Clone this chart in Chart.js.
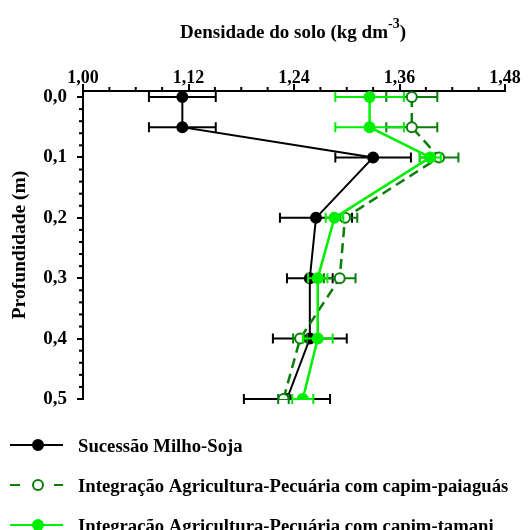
<!DOCTYPE html>
<html><head><meta charset="utf-8">
<script src="https://cdn.jsdelivr.net/npm/chart.js@4/dist/chart.umd.min.js"></script>
<style>html,body{margin:0;padding:0;background:#fff;}canvas{display:block;}</style>
</head><body>
<canvas id="c" width="531" height="530"></canvas>
<script>
const depths = [0, 0.05, 0.1, 0.2, 0.3, 0.4, 0.5];
const milhoSoja = [1.113, 1.113, 1.330, 1.265, 1.258, 1.258, 1.232];
const milhoSojaErr = [0.038, 0.038, 0.043, 0.041, 0.026, 0.042, 0.049];
const paiaguas = [1.374, 1.374, 1.405, 1.298, 1.292, 1.247, 1.228];
const paiaguasErr = [0.029, 0.029, 0.022, 0.014, 0.018, 0.008, 0.006];
const tamani = [1.326, 1.326, 1.395, 1.286, 1.267, 1.267, 1.250];
const tamaniErr = [0.039, 0.039, 0.012, 0.010, 0.011, 0.017, 0.012];
const xTicks = [1.00, 1.12, 1.24, 1.36, 1.48];
const yTicks = [0, 0.1, 0.2, 0.3, 0.4, 0.5];
const seriesNames = ['Sucessão Milho-Soja', 'Integração Agricultura-Pecuária com capim-paiaguás', 'Integração Agricultura-Pecuária com capim-tamani'];
const xTitle = 'Densidade do solo (kg dm';
const yTitle = 'Profundidade (m)';

const FONT = "'Liberation Serif', 'Times New Roman', serif";
const BLACK = '#000000', DARK = '#0a7d0a', LIGHT = '#00ee00';

function pts(vals){ return vals.map((v,i)=>({x:v, y:depths[i]})); }

const errorBars = {
  id:'errorBars',
  beforeDatasetDraw(chart, args){
    const ds = chart.data.datasets[args.index];
    const xs = chart.scales.x, ys = chart.scales.y, ctx = chart.ctx;
    ctx.save();
    ctx.strokeStyle = ds.errColor; ctx.lineWidth = 2; ctx.setLineDash([]);
    ds.data.forEach((p,i)=>{
      const e = ds.errs[i];
      const y = ys.getPixelForValue(p.y);
      const x1 = xs.getPixelForValue(p.x - e), x2 = xs.getPixelForValue(p.x + e);
      ctx.beginPath();
      ctx.moveTo(x1,y); ctx.lineTo(x2,y);
      ctx.moveTo(x1,y-5); ctx.lineTo(x1,y+5);
      ctx.moveTo(x2,y-5); ctx.lineTo(x2,y+5);
      ctx.stroke();
    });
    ctx.restore();
  }
};

const extras = {
  id:'extras',
  afterDraw(chart){
    const ctx = chart.ctx, xs = chart.scales.x, ys = chart.scales.y, ca = chart.chartArea;
    ctx.save();
    ctx.strokeStyle = '#000'; ctx.lineWidth = 2;
    for (let k=0;k<=16;k++){
      if (k%4===0) continue;
      const x = xs.getPixelForValue(1.00 + k*0.03);
      ctx.beginPath(); ctx.moveTo(x, ca.top); ctx.lineTo(x, ca.top-4); ctx.stroke();
    }
    for (let k=0;k<=25;k++){
      if (k%5===0) continue;
      const y = ys.getPixelForValue(k*0.02);
      ctx.beginPath(); ctx.moveTo(ca.left, y); ctx.lineTo(ca.left-4, y); ctx.stroke();
    }
    ctx.fillStyle = '#000';
    ctx.textBaseline = 'alphabetic';
    ctx.textAlign = 'left';
    const big = 'bold 19px ' + FONT, small = 'bold 14px ' + FONT;
    ctx.font = big; const w1 = ctx.measureText(xTitle).width; const w3 = ctx.measureText(')').width;
    ctx.font = small; const w2 = ctx.measureText('-3').width;
    const x0 = 293 - (w1+w2+w3)/2;
    const base = 38;
    ctx.font = big; ctx.fillText(xTitle, x0, base);
    ctx.font = small; ctx.fillText('-3', x0+w1, base-10);
    ctx.font = big; ctx.fillText(')', x0+w1+w2, base);
    const rows = [445, 485, 525];
    const styles = [
      {c:BLACK, dash:false, fill:BLACK},
      {c:DARK, dash:true, fill:'#fff'},
      {c:LIGHT, dash:false, fill:LIGHT}
    ];
    rows.forEach((y,i)=>{
      const s = styles[i];
      ctx.strokeStyle = s.c; ctx.lineWidth = 2;
      ctx.beginPath();
      if (s.dash){ ctx.moveTo(10,y); ctx.lineTo(20,y); ctx.moveTo(54,y); ctx.lineTo(63,y); }
      else { ctx.moveTo(10,y); ctx.lineTo(63,y); }
      ctx.stroke();
      ctx.beginPath(); ctx.arc(38,y,5,0,Math.PI*2);
      ctx.fillStyle = s.fill; ctx.fill(); ctx.stroke();
      ctx.fillStyle = '#000';
      ctx.font = 'bold 18.7px ' + FONT;
      ctx.textBaseline = 'alphabetic';
      ctx.fillText(seriesNames[i], 78, y+6.5);
    });
    ctx.restore();
  }
};

new Chart(document.getElementById('c'), {
  type:'scatter',
  data:{ datasets:[
    {label:seriesNames[0], data:pts(milhoSoja), errs:milhoSojaErr, errColor:BLACK, showLine:true,
     borderColor:BLACK, backgroundColor:BLACK, borderWidth:2, pointRadius:5, pointBorderWidth:2,
     pointBackgroundColor:BLACK, pointBorderColor:BLACK, order:3},
    {label:seriesNames[1], data:pts(paiaguas), errs:paiaguasErr, errColor:DARK, showLine:true,
     borderColor:DARK, borderDash:[10,6], borderWidth:2.5, pointRadius:5, pointBorderWidth:2,
     pointBackgroundColor:'#fff', pointBorderColor:DARK, order:2},
    {label:seriesNames[2], data:pts(tamani), errs:tamaniErr, errColor:LIGHT, showLine:true,
     borderColor:LIGHT, backgroundColor:LIGHT, borderWidth:2.5, pointRadius:5, pointBorderWidth:2,
     pointBackgroundColor:LIGHT, pointBorderColor:LIGHT, order:1}
  ]},
  options:{
    responsive:false, animation:false, devicePixelRatio:1,
    layout:{padding:{top:0, bottom:131, left:0, right:26}},
    plugins:{legend:{display:false}, tooltip:{enabled:false}},
    scales:{
      x:{type:'linear', position:'top', min:1.00, max:1.48,
        afterBuildTicks(s){ s.ticks = xTicks.map(v=>({value:v})); },
        afterFit(s){ s.height = 91; },
        ticks:{callback:v=>v.toFixed(2).replace('.',','), color:'#000', font:{family:FONT, size:18, weight:'bold'}, padding:-5, maxRotation:0},
        grid:{drawOnChartArea:false, drawTicks:true, tickLength:7, color:'#000', lineWidth:2},
        border:{display:true, color:'#000', width:2}
      },
      y:{type:'linear', reverse:true, min:-0.01, max:0.5,
        afterBuildTicks(s){ s.ticks = yTicks.map(v=>({value:v})); },
        afterFit(s){ s.width = 83; },
        ticks:{callback:v=>v.toFixed(1).replace('.',','), color:'#000', font:{family:FONT, size:19, weight:'bold'}, padding:10},
        grid:{drawOnChartArea:false, drawTicks:true, tickLength:6, color:'#000', lineWidth:2},
        border:{display:true, color:'#000', width:2},
        title:{display:true, text:yTitle, color:'#000', font:{family:FONT, size:19.5, weight:'bold'}, padding:{top:8,bottom:0}}
      }
    }
  },
  plugins:[errorBars, extras]
});
</script>
</body></html>
